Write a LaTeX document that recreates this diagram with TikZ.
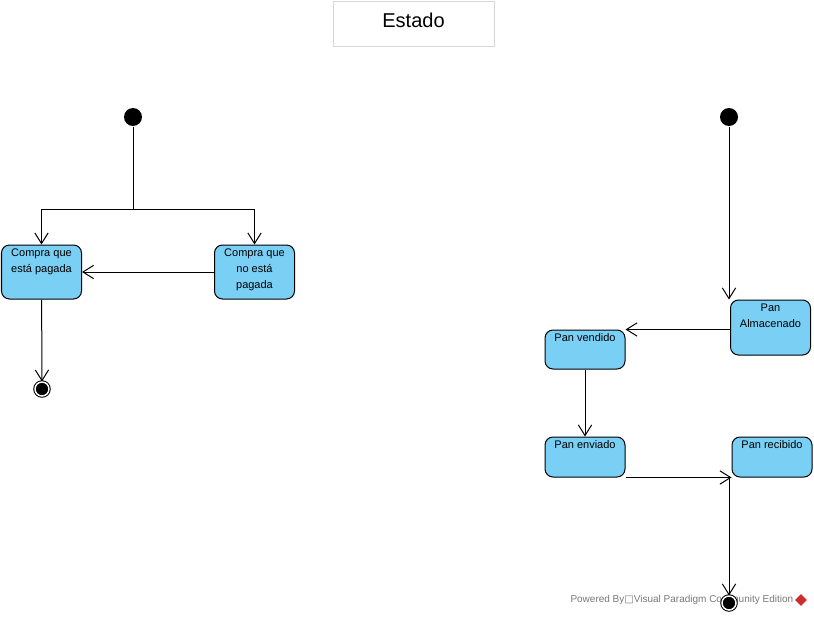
\documentclass[tikz,border=0pt]{standalone}
\usepackage{fontspec}
\setmainfont{Liberation Sans}
\newfontfamily\symfont{DejaVu Sans}
\usetikzlibrary{positioning,arrows.meta,shapes.geometric}
\definecolor{stateblue}{RGB}{122,207,245}
\definecolor{framegray}{RGB}{214,214,214}
\definecolor{markgray}{RGB}{120,120,120}
\definecolor{markred}{RGB}{205,45,45}

\begin{document}
\begin{tikzpicture}[
  x=0.75pt, y=-0.75pt, line width=0.75pt,
  estado/.style={draw, rounded corners=6pt, fill=stateblue, minimum width=60pt,
                 minimum height=40.5pt, inner sep=0pt},
  txt/.style={anchor=north, inner sep=0pt, yshift=-3pt, align=center,
              font=\fontsize{8.25}{12}\selectfont},
  inicio/.style={circle, fill=black, minimum size=13.5pt, inner sep=0pt},
  fin/.style={circle, draw, fill=black, double=white, double distance=1.1pt,
              minimum size=10.5pt, inner sep=0pt},
  flecha/.style={-{Straight Barb[length=8pt, width=10pt]}}
]
  \useasboundingbox (0,0) rectangle (814,617);

  \node[draw=framegray, minimum width=120.75pt, minimum height=33.75pt,
        label={[anchor=north, inner sep=0pt, yshift=-8pt, font=\fontsize{15}{18}\selectfont]north:Estado}]
        (titulo) at (413.5,24.5) {};

  % compra
  \node[inicio] (inicioA) at (133,117) {};
  \coordinate (bifurca) at (133,209);
  \node[estado, label={[txt]north:Compra que\\está pagada}] (pagada) at (41.5,272) {};
  \node[estado, right=99pt of pagada, label={[txt]north:Compra que\\no está\\pagada}] (nopagada) {};
  \node[fin] (finA) at (42,389) {};

  \draw (inicioA) -- (bifurca);
  \draw[flecha] (bifurca) -| (pagada);
  \draw[flecha] (bifurca) -| (nopagada);
  \draw[flecha] (nopagada) -- (pagada);
  \draw[flecha] (pagada) -- (finA);

  % pan
  \node[inicio] (inicioB) at (729,117) {};
  \node[estado, minimum height=41.25pt, label={[txt]north:Pan\\Almacenado}] (almacenado) at (770.5,327.5) {};
  \node[estado, minimum height=29.25pt, label={[txt]north:Pan vendido}] (vendido) at (585,349.5) {};
  \node[estado, minimum height=30pt, below=50.25pt of vendido, label={[txt]north:Pan enviado}] (enviado) {};
  \node[estado, minimum height=30pt, right=79.5pt of enviado, label={[txt]north:Pan recibido}] (recibido) {};

  \node[font=\fontsize{7.5}{9}\selectfont, text=markgray, anchor=west, inner sep=0pt]
        (marca) at (570,600) {Powered By{\symfont □}Visual Paradigm Community Edition};
  \node[diamond, fill=markred, minimum size=9pt, inner sep=0pt] (logo) at (801,600) {};

  \node[fin] (finB) at (729,603) {};

  \draw[flecha] (inicioB) -- (inicioB |- almacenado.north);
  \draw[flecha] (almacenado.west |- vendido.north) -- (vendido.north east);
  \draw[flecha] (vendido) -- (enviado);
  \draw[flecha] (enviado.south east) -- (recibido.south west);
  \draw[flecha] (finB |- recibido.south) -- (finB);
\end{tikzpicture}
\end{document}
